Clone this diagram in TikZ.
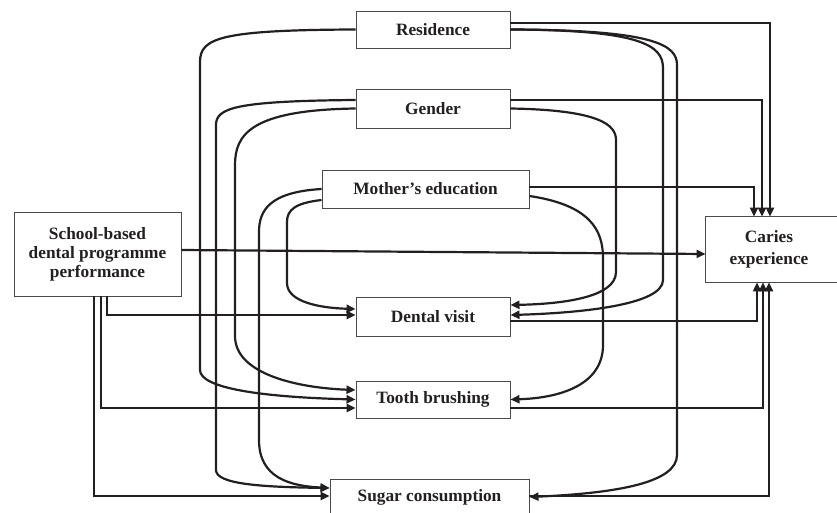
\documentclass[tikz,border=0pt]{standalone}
\usepackage{fontspec}
\setmainfont{Liberation Serif}
\usetikzlibrary{arrows.meta}
\definecolor{linec}{HTML}{231F20}
\definecolor{boxc}{HTML}{4A4A4A}
\begin{document}
\begin{tikzpicture}[x=1pt,y=-1pt,
  box/.style={draw=boxc, line width=0.9pt, inner sep=0pt, font=\fontsize{17.3}{20}\selectfont\bfseries, align=center, text=linec},
  conn/.style={draw=linec, line width=2.2pt},
  arr/.style={conn, -{Triangle[length=9pt,width=8pt]}}]
\useasboundingbox (0,0) rectangle (837,513);

% nodes
\node[box, minimum width=154pt, minimum height=37pt] (res) at (433,29.5) {Residence};
\node[box, minimum width=154pt, minimum height=39pt] (gen) at (433,108.5) {Gender};
\node[box, minimum width=207pt, minimum height=38pt] (mot) at (425.5,189) {Mother’s education};
\node[box, minimum width=167pt, minimum height=84pt, font=\fontsize{17.3}{19}\selectfont\bfseries] (sch) at (97.5,254) {School-based\\dental programme\\performance};
\node[box, draw=none, minimum width=126pt, minimum height=65pt, font=\fontsize{17.3}{21.5}\selectfont\bfseries] (car) at (769,249.5) {Caries\\experience};
\draw[draw=boxc, line width=0.9pt] (car.north east) ++(60pt,0) -- (car.north west) -- (car.south west) -- ++(186pt,0);
\node[box, minimum width=154pt, minimum height=39pt] (den) at (433,316.5) {Dental visit};
\node[box, minimum width=154pt, minimum height=37pt] (too) at (433,399.5) {Tooth brushing};
\node[box, minimum width=199pt, minimum height=36pt] (sug) at (429.5,497) {Sugar consumption};

% Residence
\draw[arr] ([yshift=6.5pt]res.east) -| ([xshift=1pt]car.north);
\draw[arr] (res.east) .. controls (640,30) and (663,45) .. (663,68) -- (663,280) .. controls (663,305) and (580,313) .. ([yshift=1.5pt]den.east);
\draw[arr] (res.east) .. controls (655,30) and (677,45) .. (677,65) -- (677,455) .. controls (677,482) and (620,493) .. (sug.east);
\draw[arr] (res.west) .. controls (220,30) and (200,38) .. (200,62) -- (200,370) .. controls (200,388) and (260,397) .. (too.west);

% Gender
\draw[arr] ([yshift=8.5pt]gen.east) -| ([xshift=-7pt]car.north);
\draw[arr] (gen.east) .. controls (600,110) and (616,125) .. (616,140) -- (616,272) .. controls (616,298) and (560,304) .. ([yshift=11.5pt]den.east);
\draw[arr] ([yshift=8.5pt]gen.west) .. controls (235,101) and (216,108) .. (216,125) -- (216,470) .. controls (216,484) and (260,487) .. ([yshift=9pt]sug.west);
\draw[arr] (gen.west) .. controls (250,110) and (235,135) .. (235,165) -- (235,336) .. controls (235,375) and (300,388) .. ([yshift=9.5pt]too.west);

% Mother's education
\draw[arr] ([yshift=2pt]mot.east) -| ([xshift=-15pt]car.north);
\draw[arr] ([yshift=-7pt]mot.east) .. controls (590,205) and (603,230) .. (603,258) -- (603,345) .. controls (603,385) and (560,398) .. (too.east);
\draw[arr] (mot.west) .. controls (270,192) and (259,210) .. (259,232) -- (259,440) .. controls (259,478) and (290,486) .. ([yshift=9pt]sug.west);
\draw[arr] ([yshift=-11pt]mot.west) .. controls (295,203) and (287,210) .. (287,222) -- (287,283) .. controls (287,302) and (320,308) .. ([yshift=7.5pt]den.west);

% School-based programme
\draw[arr] ([yshift=4pt]sch.east) -- ([yshift=-4.5pt]car.west);
\draw[arr] ([xshift=9.8pt]sch.south) |- ([yshift=1.5pt]den.west);
\draw[arr] ([xshift=3.2pt]sch.south) |- ([yshift=-8.5pt]too.west);
\draw[arr] ([xshift=-3.5pt]sch.south) |- ([yshift=1pt]sug.west);

% to caries
\draw[arr] ([yshift=-4.5pt]den.east) -| ([xshift=-12pt]car.south);
\draw[arr] ([yshift=-8.5pt]too.east) -| ([xshift=-6pt]car.south);
\draw[arr] ([yshift=1pt]sug.east) -| (car.south);
\end{tikzpicture}
\end{document}
